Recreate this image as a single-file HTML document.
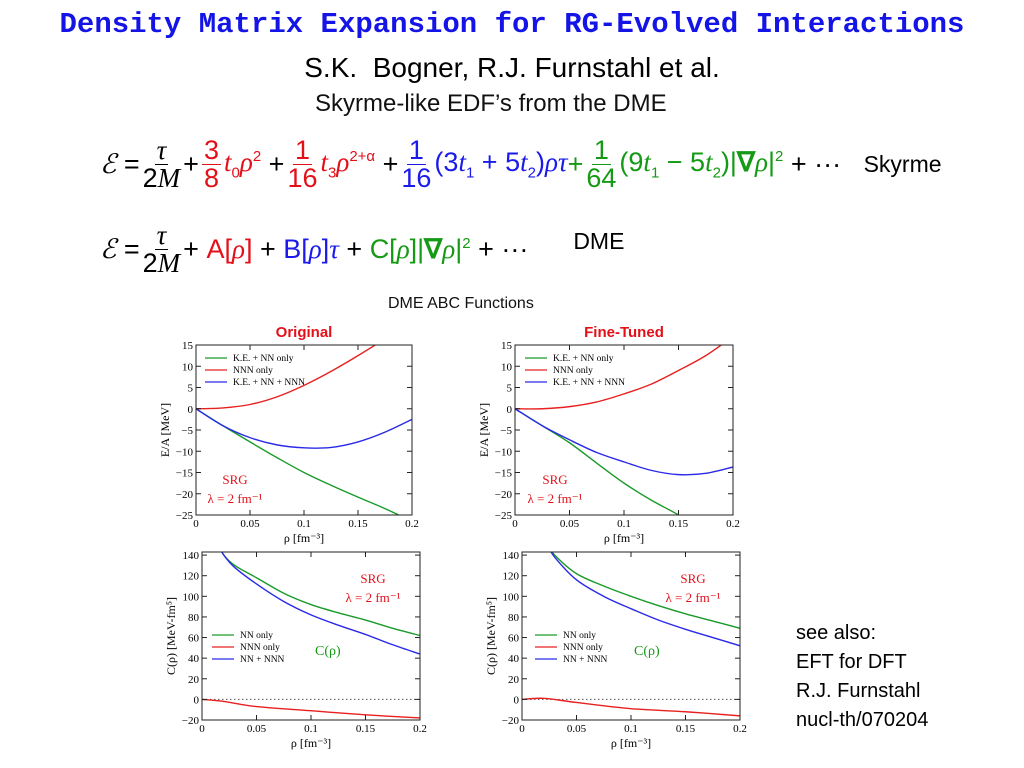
<!DOCTYPE html>
<html><head><meta charset="utf-8">
<style>
body{margin:0;background:#fff;width:1024px;height:768px;overflow:hidden;position:relative;font-family:"Liberation Sans",sans-serif}
.abs{position:absolute;white-space:nowrap}
.eq{font-family:"Liberation Sans",sans-serif;font-size:27px;display:flex;align-items:center}
.fr{display:inline-flex;flex-direction:column;align-items:center;margin:0 3px;line-height:1}
.fr span:first-child{border-bottom:1.5px solid currentColor;padding:0 2px}
.r{color:#e3101a}.b{color:#1a1aeb}.g{color:#149a14}
i{font-family:"Liberation Serif",serif}
sub,sup{font-size:15px}
</style></head><body>
<div class="abs" style="left:0;width:1024px;top:8px;text-align:center;font-family:'Liberation Mono',monospace;font-weight:bold;font-size:29px;color:#1414e6">Density Matrix Expansion for RG-Evolved Interactions</div>
<div class="abs" style="left:0;width:1024px;top:52px;text-align:center;font-size:28px;color:#000">S.K.&nbsp; Bogner, R.J. Furnstahl et al.</div>
<div class="abs" style="left:315px;top:90px;font-size:24px;color:#111">Skyrme-like EDF’s from the DME</div>
<div class="abs eq" style="left:100px;top:137px">
<i>ℰ</i>&nbsp;=<span class="fr"><span><i>τ</i></span><span>2<i>M</i></span></span>+<span class="fr r"><span>3</span><span>8</span></span><span class="r"><i>t</i><sub>0</sub><i>ρ</i><sup>2</sup></span>&nbsp;+<span class="fr r"><span>1</span><span>16</span></span><span class="r"><i>t</i><sub>3</sub><i>ρ</i><sup>2+α</sup></span>&nbsp;+<span class="fr b"><span>1</span><span>16</span></span><span class="b">(3<i>t</i><sub>1</sub> + 5<i>t</i><sub>2</sub>)<i>ρτ</i></span><span class="g">+</span><span class="fr g"><span>1</span><span>64</span></span><span class="g">(9<i>t</i><sub>1</sub> − 5<i>t</i><sub>2</sub>)|<b>∇</b><i>ρ</i>|<sup>2</sup></span>&nbsp;+ ···&nbsp;&nbsp;&nbsp;<span style="font-size:23px">Skyrme</span></div>
<div class="abs eq" style="left:100px;top:222px">
<i>ℰ</i>&nbsp;=<span class="fr"><span><i>τ</i></span><span>2<i>M</i></span></span>+&nbsp;<span class="r">A[<i>ρ</i>]</span>&nbsp;+&nbsp;<span class="b">B[<i>ρ</i>]<i>τ</i></span>&nbsp;+&nbsp;<span class="g">C[<i>ρ</i>]|<b>∇</b><i>ρ</i>|<sup>2</sup></span>&nbsp;+ ···<span style="font-size:23px;margin-left:45px;position:relative;top:-8px">DME</span></div>
<div class="abs" style="left:388px;top:295px;font-size:16px;color:#111">DME ABC Functions</div>
<div class="abs" style="left:796px;top:619px;font-size:20px;line-height:29px;color:#000">see also:<br>EFT for DFT<br>R.J. Furnstahl<br>nucl-th/070204</div>
<svg id="sv" width="1024" height="768" style="position:absolute;left:0;top:0"></svg>
<script>
// Top-left "Original" E/A
const xTop=[0,0.025,0.05,0.075,0.1,0.125,0.15,0.175,0.2];
const origGreen=[0,-4,-7.8,-11.5,-15,-18,-20.8,-23.5,-26.5];
const origRed=[0,0.2,1,2.8,5.5,8.8,12.5,16.5,21];
const origBlue=[0,-4,-6.8,-8.5,-9.2,-9.1,-7.8,-5.5,-2.5];
// Top-right "Fine-Tuned"
const fineGreen=[0,-4,-8,-12.8,-17.5,-21.5,-25,-29,-33];
const fineRed=[0,0,0.5,1.6,3.5,5.8,9,12.5,17];
const fineBlue=[0,-4,-7.3,-10.3,-12.5,-14.5,-15.5,-15.2,-13.7];
// Bottom C(rho)
const xBot=[0.012,0.02,0.03,0.05,0.075,0.1,0.125,0.15,0.175,0.2];
const cOrigGreen=[155,140,130,118,103,92,84,77,69,62];
const cOrigBlue=[155,140,128,112,95,82,72,63,53,44];
const xRed=[0,0.02,0.05,0.1,0.15,0.2];
const cOrigRed=[0,-2,-7,-11,-15,-18];
const xBot2=[0.022,0.03,0.05,0.075,0.1,0.125,0.15,0.175,0.2];
const cFineGreen=[152,140,122,110,100,91,83,76,69];
const cFineBlue=[152,138,116,100,88,77,68,60,52];
const cFineRed=[0,1,-3,-9,-12,-16];
const xTicks=["0","0.05","0.1","0.15","0.2"];
const yTopTicks=[15,10,5,0,-5,-10,-15,-20,-25];
const yBotTicks=[140,120,100,80,60,40,20,0,-20];

const NS="http://www.w3.org/2000/svg",sv=document.getElementById('sv');
function mk(t,a,p,txt){const e=document.createElementNS(NS,t);for(const k in a)e.setAttribute(k,a[k]);if(txt!==undefined)e.textContent=txt;(p||sv).appendChild(e);return e;}
function smooth(P){let d='M'+P[0][0]+','+P[0][1];for(let i=0;i<P.length-1;i++){const p0=P[i-1]||P[i],p1=P[i],p2=P[i+1],p3=P[i+2]||p2;
 d+=` C${p1[0]+(p2[0]-p0[0])/6},${p1[1]+(p2[1]-p0[1])/6} ${p2[0]-(p3[0]-p1[0])/6},${p2[1]-(p3[1]-p1[1])/6} ${p2[0]},${p2[1]}`;}return d;}
function chart(o){
 const g=mk('g',{});
 
 
 const X=v=>o.x0+(o.x1-o.x0)*v/0.2, Y=v=>o.y0+(o.y1-o.y0)*(o.ymax-v)/(o.ymax-o.ymin);
 const cp=mk('clipPath',{id:o.name+'c'},g);mk('rect',{x:o.x0,y:o.y0,width:o.x1-o.x0,height:o.y1-o.y0},cp);
 if(o.dotted){const d=mk('line',{x1:o.x0,x2:o.x1,y1:Y(0),y2:Y(0),stroke:'#555','stroke-dasharray':'1.5 2.5','stroke-width':1},g);}
 o.series.forEach(s=>{const p=mk('path',{d:smooth(s.x.map((v,i)=>[X(v),Y(s.y[i])])),fill:'none',stroke:s.c,'stroke-width':1.4,'clip-path':'url(#'+o.name+'c)'},g);
  });
 const fr=mk('rect',{x:o.x0,y:o.y0,width:o.x1-o.x0,height:o.y1-o.y0,fill:'none',stroke:'#222','stroke-width':1},g);
 
 xTicks.forEach((t,i)=>{const xx=X(i*0.05);mk('line',{x1:xx,x2:xx,y1:o.y1,y2:o.y1-5,stroke:'#222'},g);mk('line',{x1:xx,x2:xx,y1:o.y0,y2:o.y0+5,stroke:'#222'},g);
  const tx=mk('text',{x:xx,y:o.y1+12,'text-anchor':'middle','font-size':11,'font-family':'Liberation Serif'},g,t);});
 o.yt.forEach(t=>{const yy=Y(t);mk('line',{x1:o.x0,x2:o.x0+5,y1:yy,y2:yy,stroke:'#222'},g);mk('line',{x1:o.x1,x2:o.x1-5,y1:yy,y2:yy,stroke:'#222'},g);
  const tx=mk('text',{x:o.x0-3,y:yy+4,'text-anchor':'end','font-size':11,'font-family':'Liberation Serif'},g,String(t).replace('-','−'));});
 const xl=mk('text',{x:(o.x0+o.x1)/2,y:o.y1+27,'text-anchor':'middle','font-size':12,'font-family':'Liberation Serif'},g,'ρ [fm⁻³]');
 const yl=mk('text',{transform:`translate(${o.x0-27},${(o.y0+o.y1)/2}) rotate(-90)`,'text-anchor':'middle','font-size':12,'font-family':'Liberation Serif'},g,o.ylab);
 o.series.forEach((s,i)=>{const ly=o.leg[1]+i*12;mk('line',{x1:o.leg[0],x2:o.leg[0]+22,y1:ly,y2:ly,stroke:s.c,'stroke-width':1.3},g);
  const lt=mk('text',{x:o.leg[0]+28,y:ly+3,'font-size':9.5,'font-family':'Liberation Serif'},g,s.l);});
 const a=mk('text',{x:o.srg[0],y:o.srg[1],'text-anchor':'middle','font-size':13,'font-family':'Liberation Serif',fill:'#e3101a'},g,'SRG');
 const b=mk('text',{x:o.srg[0],y:o.srg[1]+19,'text-anchor':'middle','font-size':13,'font-family':'Liberation Serif',fill:'#e3101a'},g,'λ = 2 fm⁻¹');
 if(o.title){const t=mk('text',{x:(o.x0+o.x1)/2,y:o.y0-8,'text-anchor':'middle','font-size':15,'font-weight':'bold','font-family':'Liberation Sans',fill:'#e3101a'},g,o.title);}
 if(o.clab){const t=mk('text',{x:o.clab[0],y:o.clab[1],'font-size':14,'font-family':'Liberation Serif',fill:'#149a14'},g,'C(ρ)');}
}
const G='#1a9a2a',R='#e82020',B='#2a2ae8';
chart({name:'chart-original-ea',x0:196,x1:412,y0:345,y1:515,ymin:-25,ymax:15,yt:yTopTicks,ylab:'E/A [MeV]',title:'Original',leg:[205,358],srg:[235,484],
 series:[{x:xTop,y:origGreen,c:G,n:'line-ke-nn',l:'K.E. + NN only'},{x:xTop,y:origRed,c:R,n:'line-nnn',l:'NNN only'},{x:xTop,y:origBlue,c:B,n:'line-ke-nn-nnn',l:'K.E. + NN + NNN'}]});
chart({name:'chart-finetuned-ea',x0:515,x1:733,y0:345,y1:515,ymin:-25,ymax:15,yt:yTopTicks,ylab:'E/A [MeV]',title:'Fine-Tuned',leg:[525,358],srg:[555,484],
 series:[{x:xTop,y:fineGreen,c:G,n:'line-ke-nn',l:'K.E. + NN only'},{x:xTop,y:fineRed,c:R,n:'line-nnn',l:'NNN only'},{x:xTop,y:fineBlue,c:B,n:'line-ke-nn-nnn',l:'K.E. + NN + NNN'}]});
chart({name:'chart-original-c',x0:202,x1:420,y0:552,y1:720,ymin:-20,ymax:143,yt:yBotTicks,ylab:'C(ρ)  [MeV-fm⁵]',dotted:1,leg:[212,635],srg:[373,583],clab:[315,655],
 series:[{x:xBot,y:cOrigGreen,c:G,n:'line-nn',l:'NN only'},{x:xRed,y:cOrigRed,c:R,n:'line-nnn',l:'NNN only'},{x:xBot,y:cOrigBlue,c:B,n:'line-nn-nnn',l:'NN + NNN'}]});
chart({name:'chart-finetuned-c',x0:522,x1:740,y0:552,y1:720,ymin:-20,ymax:143,yt:yBotTicks,ylab:'C(ρ)  [MeV-fm⁵]',dotted:1,leg:[535,635],srg:[693,583],clab:[634,655],
 series:[{x:xBot2,y:cFineGreen,c:G,n:'line-nn',l:'NN only'},{x:xRed,y:cFineRed,c:R,n:'line-nnn',l:'NNN only'},{x:xBot2,y:cFineBlue,c:B,n:'line-nn-nnn',l:'NN + NNN'}]});
</script>
</body></html>
